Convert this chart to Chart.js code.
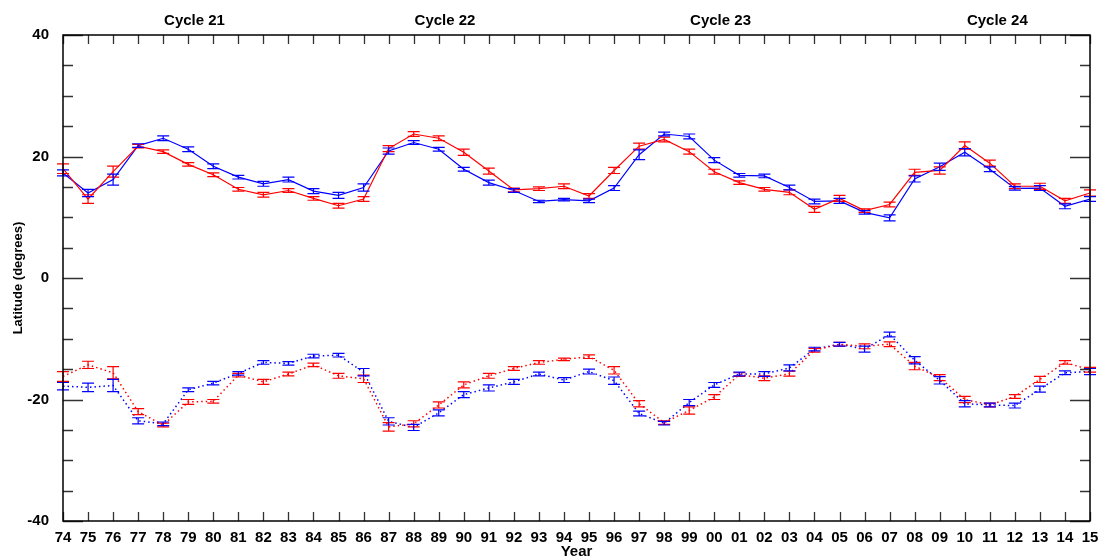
<!DOCTYPE html>
<html>
<head>
<meta charset="utf-8">
<style>
  html, body { margin: 0; padding: 0; background: #ffffff; }
  #wrap { width: 1099px; height: 560px; position: relative; }
</style>
<script src="https://cdn.jsdelivr.net/npm/chart.js@4.4.1/dist/chart.umd.min.js"></script>
</head>
<body>
<div id="wrap"><canvas id="chart"></canvas></div>
<script>
// Years of observation (x categories)
const years = [1974, 1975, 1976, 1977, 1978, 1979, 1980, 1981, 1982, 1983, 1984,
               1985, 1986, 1987, 1988, 1989, 1990, 1991, 1992, 1993, 1994, 1995,
               1996, 1997, 1998, 1999, 2000, 2001, 2002, 2003, 2004, 2005, 2006,
               2007, 2008, 2009, 2010, 2011, 2012, 2013, 2014, 2015];

// Mean latitudes, northern hemisphere (solid lines)
const northRed = [18.0, 13.0, 17.5, 21.7, 20.8, 18.7, 17.0, 14.6, 13.7, 14.4, 13.1,
                  11.9, 13.0, 21.3, 23.7, 23.0, 20.7, 17.6, 14.5, 14.7, 15.1, 13.5,
                  17.7, 21.7, 22.8, 20.8, 17.5, 15.7, 14.6, 14.1, 11.3, 13.1, 11.1,
                  12.1, 17.4, 17.7, 21.8, 18.9, 15.1, 15.1, 12.7, 14.0];
const northRedErr = [0.8, 0.7, 0.9, 0.3, 0.3, 0.3, 0.3, 0.3, 0.4, 0.3, 0.3,
                     0.4, 0.4, 0.5, 0.4, 0.4, 0.5, 0.5, 0.3, 0.3, 0.4, 0.4,
                     0.5, 0.5, 0.4, 0.4, 0.4, 0.3, 0.3, 0.4, 0.5, 0.5, 0.3,
                     0.4, 0.5, 0.6, 0.6, 0.5, 0.4, 0.5, 0.4, 0.5];
const northBlue = [17.3, 14.0, 16.2, 21.8, 23.0, 21.2, 18.4, 16.6, 15.5, 16.2, 14.3,
                   13.6, 14.9, 20.9, 22.3, 21.2, 17.9, 15.7, 14.4, 12.6, 12.9, 12.7,
                   14.8, 20.3, 23.7, 23.3, 19.4, 16.9, 16.8, 14.9, 12.6, 12.7, 10.8,
                   9.9, 16.3, 18.3, 20.7, 17.9, 14.75, 14.8, 11.8, 13.0];
const northBlueErr = [0.5, 0.6, 0.9, 0.3, 0.4, 0.4, 0.4, 0.3, 0.4, 0.4, 0.4,
                      0.5, 0.6, 0.5, 0.3, 0.3, 0.3, 0.4, 0.3, 0.2, 0.2, 0.3,
                      0.4, 0.8, 0.3, 0.4, 0.4, 0.3, 0.3, 0.4, 0.4, 0.4, 0.3,
                      0.5, 0.5, 0.6, 0.6, 0.4, 0.3, 0.4, 0.4, 0.4];

// Mean latitudes, southern hemisphere (dotted lines)
const southRed = [-16.2, -14.3, -15.6, -22.0, -24.2, -20.4, -20.3, -16.0, -17.1, -15.8, -14.3,
                  -16.1, -16.6, -24.5, -24.0, -20.9, -17.6, -16.1, -14.9, -13.9, -13.4, -12.95,
                  -15.2, -20.7, -23.8, -21.8, -19.6, -15.9, -16.5, -15.75, -11.9, -10.9, -11.25,
                  -10.9, -14.5, -16.4, -20.0, -20.9, -19.5, -16.7, -13.9, -15.1];
const southRedErr = [0.8, 0.6, 1.0, 0.5, 0.3, 0.4, 0.3, 0.3, 0.4, 0.3, 0.3,
                     0.4, 0.6, 0.7, 0.5, 0.5, 0.5, 0.4, 0.3, 0.3, 0.2, 0.3,
                     0.6, 0.5, 0.3, 0.6, 0.4, 0.3, 0.4, 0.4, 0.3, 0.3, 0.4,
                     0.4, 0.6, 0.5, 0.5, 0.3, 0.3, 0.5, 0.3, 0.4];
const southBlue = [-17.8, -18.0, -17.7, -23.5, -24.0, -18.4, -17.3, -15.7, -13.9, -14.05, -12.85,
                   -12.7, -15.5, -23.6, -24.6, -22.2, -19.2, -18.1, -17.1, -15.8, -16.8, -15.4,
                   -16.9, -22.3, -23.9, -20.5, -17.6, -15.8, -15.8, -14.8, -11.7, -10.9, -11.7,
                   -9.3, -13.55, -16.85, -20.7, -20.9, -21.0, -18.3, -15.6, -15.4];
const southBlueErr = [0.6, 0.7, 1.0, 0.5, 0.3, 0.3, 0.3, 0.3, 0.3, 0.3, 0.3,
                      0.3, 0.6, 0.6, 0.5, 0.5, 0.5, 0.5, 0.4, 0.3, 0.4, 0.4,
                      0.6, 0.4, 0.3, 0.5, 0.4, 0.3, 0.4, 0.5, 0.3, 0.3, 0.5,
                      0.4, 0.6, 0.6, 0.5, 0.3, 0.4, 0.5, 0.3, 0.5];

// Solar cycle labels along the top edge, placed at a year position
const cycleNames = ['Cycle 21', 'Cycle 22', 'Cycle 23', 'Cycle 24'];
const cycleYears = [1979.25, 1989.25, 2000.25, 2011.3];

// Y axis tick values
const yMajorTicks = [-40, -20, 0, 20, 40];

const RED = '#ff0000';
const BLUE = '#0000ff';
const FONT = "'Liberation Sans', Arial, Helvetica, sans-serif";

function series(values) {
  return values.map((v, i) => ({ x: years[i], y: v }));
}

// Vertical error bars with short caps, drawn through the chart scales
const errorBars = {
  id: 'errorBars',
  afterDatasetsDraw(chart) {
    const { ctx } = chart;
    const ys = chart.scales.y;
    chart.data.datasets.forEach((ds, di) => {
      const meta = chart.getDatasetMeta(di);
      ctx.save();
      ctx.strokeStyle = ds.borderColor;
      ctx.lineWidth = 1.2;
      meta.data.forEach((pt, j) => {
        const v = ds.data[j].y;
        const e = ds.errors[j];
        const x = pt.x;
        const t = ys.getPixelForValue(v + e);
        const b = ys.getPixelForValue(v - e);
        ctx.beginPath();
        ctx.moveTo(x, t); ctx.lineTo(x, b);
        ctx.moveTo(x - 6, t); ctx.lineTo(x + 6, t);
        ctx.moveTo(x - 6, b); ctx.lineTo(x + 6, b);
        ctx.stroke();
      });
      ctx.restore();
    });
  }
};

// Boxed frame with inward-pointing ticks on all four sides, plus cycle labels
const frame = {
  id: 'frame',
  afterDraw(chart) {
    const { ctx, chartArea: a } = chart;
    const xs = chart.scales.x;
    const ys = chart.scales.y;
    ctx.save();
    ctx.strokeStyle = '#333333';
    ctx.lineWidth = 1.3;
    ctx.beginPath();
    years.forEach((yr) => {
      const px = Math.round(xs.getPixelForValue(yr)) + 0.5;
      ctx.moveTo(px, a.bottom); ctx.lineTo(px, a.bottom - 9);
      ctx.moveTo(px, a.top); ctx.lineTo(px, a.top + 9);
    });
    for (let v = -40; v <= 40; v += 5) {
      const py = Math.round(ys.getPixelForValue(v)) + 0.5;
      const len = yMajorTicks.includes(v) ? 20 : 10;
      ctx.moveTo(a.left, py); ctx.lineTo(a.left + len, py);
      ctx.moveTo(a.right, py); ctx.lineTo(a.right - len, py);
    }
    ctx.stroke();
    ctx.strokeStyle = '#000000';
    ctx.lineWidth = 1.5;
    ctx.strokeRect(a.left, a.top, a.right - a.left, a.bottom - a.top);

    ctx.fillStyle = '#000000';
    ctx.font = 'bold 15px ' + FONT;
    ctx.textAlign = 'center';
    ctx.textBaseline = 'middle';
    cycleNames.forEach((name, i) => {
      ctx.fillText(name, xs.getPixelForValue(cycleYears[i]), 21);
    });
    ctx.restore();
  }
};

new Chart(document.getElementById('chart'), {
  type: 'line',
  data: {
    datasets: [
      { data: series(northRed), errors: northRedErr, borderColor: RED, borderWidth: 1.2 },
      { data: series(northBlue), errors: northBlueErr, borderColor: BLUE, borderWidth: 1.2 },
      { data: series(southRed), errors: southRedErr, borderColor: RED, borderWidth: 1.5, borderDash: [1.5, 3] },
      { data: series(southBlue), errors: southBlueErr, borderColor: BLUE, borderWidth: 1.5, borderDash: [1.5, 3] }
    ]
  },
  options: {
    responsive: true,
    maintainAspectRatio: false,
    animation: false,
    events: [],
    layout: { padding: { top: 35, right: 9, left: 0, bottom: 0 } },
    elements: {
      line: { tension: 0, fill: false },
      point: { radius: 0, hoverRadius: 0 }
    },
    plugins: {
      legend: { display: false },
      tooltip: { enabled: false }
    },
    scales: {
      x: {
        type: 'linear',
        min: 1974,
        max: 2015,
        grid: { display: false },
        border: { display: false },
        ticks: {
          stepSize: 1,
          autoSkip: false,
          maxRotation: 0,
          padding: 0,
          color: '#000000',
          font: { family: FONT, size: 15, weight: 'bold' },
          callback: (v) => String(v % 100).padStart(2, '0')
        },
        title: {
          display: true,
          text: 'Year',
          color: '#000000',
          font: { family: FONT, size: 15, weight: 'bold' },
          padding: { top: 0, bottom: -1 }
        },
        afterFit: (s) => { s.height = 39; s.paddingLeft = 0; s.paddingRight = 0; }
      },
      y: {
        min: -40,
        max: 40,
        grid: { display: false },
        border: { display: false },
        ticks: {
          stepSize: 20,
          padding: 6,
          color: '#000000',
          font: { family: FONT, size: 15, weight: 'bold' }
        },
        title: {
          display: true,
          text: 'Latitude (degrees)',
          color: '#000000',
          font: { family: FONT, size: 13, weight: 'bold' },
          padding: { top: 11, bottom: 0 }
        },
        afterFit: (s) => { s.width = 63; s.paddingTop = 0; s.paddingBottom = 0; }
      }
    }
  },
  plugins: [errorBars, frame]
});
</script>
</body>
</html>
